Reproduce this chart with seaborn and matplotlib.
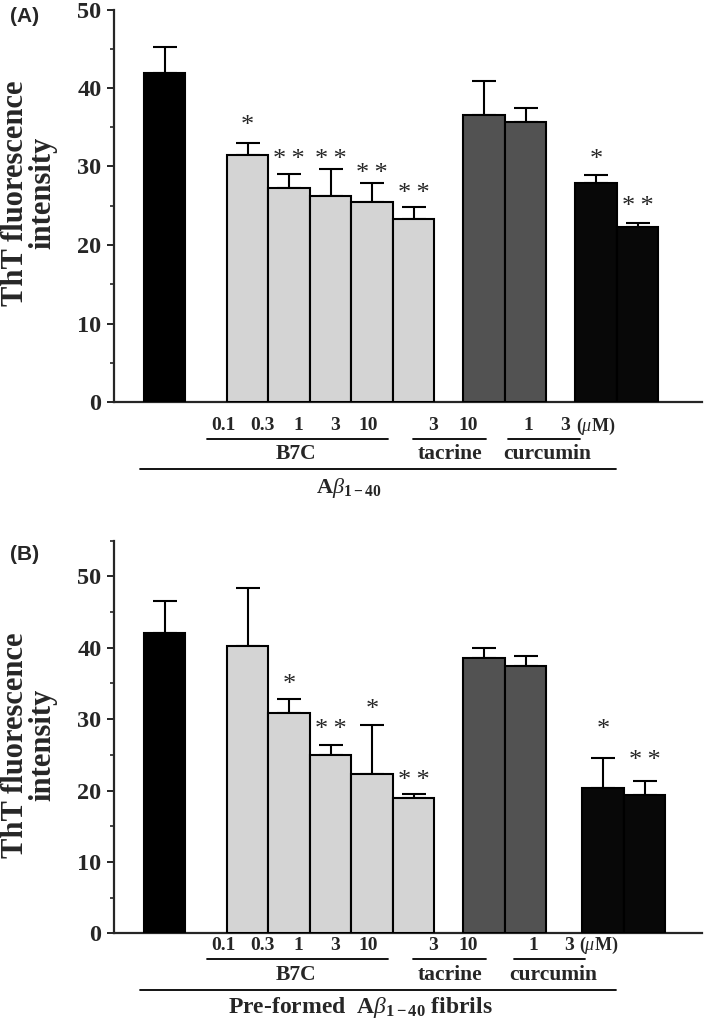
import matplotlib.pyplot as plt
import pandas as pd
import seaborn as sns
from matplotlib.lines import Line2D
from matplotlib.ticker import MultipleLocator

# Values (mean and upper error, ThT fluorescence)
groups = ["control", "B7C", "B7C", "B7C", "B7C", "B7C", "tacrine", "tacrine", "curcumin", "curcumin"]
doses = ["", "0.1", "0.3", "1", "3", "10", "3", "10", "1", "3"]

mean_a = [41.9, 31.5, 27.3, 26.2, 25.5, 23.3, 36.6, 35.7, 27.9, 22.3]
sem_a = [3.3, 1.5, 1.7, 3.5, 2.4, 1.5, 4.3, 1.8, 1.0, 0.5]
stars_a = ["", "*", "**", "**", "**", "**", "", "", "*", "**"]
star_y_a = [0, 35.5, 31.2, 31.2, 29.3, 26.8, 0, 0, 31.2, 25.2]

mean_b = [42.1, 40.2, 30.9, 25.0, 22.3, 18.9, 38.5, 37.5, 20.4, 19.4]
sem_b = [4.5, 8.2, 1.9, 1.4, 6.9, 0.6, 1.4, 1.3, 4.2, 2.0]
stars_b = ["", "", "*", "**", "*", "**", "", "", "*", "**"]
star_y_b = [0, 0, 35.1, 28.8, 31.6, 21.7, 0, 0, 28.8, 24.5]

palette = {"control": "#000000", "B7C": "#d4d4d4", "tacrine": "#525252", "curcumin": "#080808"}

sns.set_style("white")
plt.rcParams["font.family"] = ["Liberation Serif", "DejaVu Serif"]
plt.rcParams["mathtext.fontset"] = "custom"
plt.rcParams["mathtext.rm"] = "Liberation Serif:bold"
plt.rcParams["mathtext.it"] = "Liberation Serif:italic"
plt.rcParams["mathtext.bf"] = "Liberation Serif:bold"

W, H = 709, 1035


def fx(px):
    return px / W


def fy(py):
    return 1 - py / H


def bar_positions(gap_tac, gap_cur):
    # control, gap, B7C x5, gap, tacrine x2, gap, curcumin x2
    pos = [0, 2, 3, 4, 5, 6]
    pos += [6 + gap_tac, 7 + gap_tac]
    pos += [7 + gap_tac + gap_cur, 8 + gap_tac + gap_cur]
    return pos


def draw_panel(fig, rect, means, sems, stars, star_y, pos, ymax, lay):
    ax = fig.add_axes(rect)
    df = pd.DataFrame({"pos": pos, "mean": means, "sem": sems, "group": groups})
    sns.barplot(data=df, x="pos", y="mean", hue="group", palette=palette, native_scale=True,
                dodge=False, width=1.0, saturation=1, edgecolor="black", linewidth=1.5,
                errorbar=None, legend=False, ax=ax, zorder=3)
    ax.errorbar(df["pos"], df["mean"], yerr=[[0] * len(df), df["sem"]], fmt="none",
                ecolor="black", elinewidth=1.5, capsize=8.5, capthick=1.5, zorder=2)
    for x, s, y in zip(pos, stars, star_y):
        if s:
            txt = s.replace("**", "*\u2009*")
            ax.text(x, y, txt, ha="center", va="center_baseline", fontsize=19)

    ax.set_xlim(-1.22, 12.95)
    ax.set_ylim(0, ymax)
    ax.set_xticks([])
    ax.set_xlabel("")
    ax.set_ylabel("")
    ax.yaxis.set_major_locator(MultipleLocator(10))
    ax.yaxis.set_minor_locator(MultipleLocator(5))
    ax.tick_params(axis="y", which="major", direction="out", length=5, width=1.4,
                   labelsize=17.5, left=True, pad=4)
    ax.tick_params(axis="y", which="minor", direction="out", length=3, width=1.2, left=True)
    for lbl in ax.get_yticklabels():
        lbl.set_fontweight("bold")
    sns.despine(ax=ax)
    ax.spines["left"].set_linewidth(1.6)
    ax.spines["bottom"].set_linewidth(1.6)

    # dose labels and group brackets under the axis
    for d, px in zip(doses[1:], lay["dose_x"]):
        fig.text(fx(px), fy(lay["dose_y"]), d, ha="center", va="center", fontsize=14, fontweight="bold")
    fig.text(fx(lay["unit_x"]), fy(lay["dose_y"]), r"($\mathit{\mu}$M)", ha="center", va="center",
             fontsize=13, fontweight="bold")
    for (x0, x1), name, nx in zip(lay["lines"], ["B7C", "tacrine", "curcumin"], lay["name_x"]):
        fig.add_artist(Line2D([fx(x0), fx(x1)], [fy(lay["line_y"])] * 2, color="black", lw=1.3))
        fig.text(fx(nx), fy(lay["name_y"]), name, ha="center", va="center", fontsize=15.5, fontweight="bold")
    fig.add_artist(Line2D([fx(140), fx(616)], [fy(lay["long_y"])] * 2, color="black", lw=1.3))
    fig.text(fx(lay["title_x"]), fy(lay["title_y"]), lay["title"], ha="center", va="center",
             fontsize=lay["title_size"], fontweight="bold")
    return ax


fig = plt.figure(figsize=(W / 100, H / 100), dpi=100)

lay_a = {
    "dose_x": [223, 262, 298, 335, 368, 433, 468, 528, 565], "unit_x": 596, "dose_y": 426,
    "lines": [(207, 388), (413, 486), (508, 580)], "line_y": 439,
    "name_x": [296, 450, 547], "name_y": 454, "long_y": 469,
    "title": r"A$\mathit{\beta}_{\mathbf{1-40}}$", "title_x": 349, "title_y": 488, "title_size": 16,
}
lay_b = {
    "dose_x": [223, 262, 298, 335, 368, 433, 468, 533, 569], "unit_x": 599, "dose_y": 945,
    "lines": [(207, 388), (413, 486), (514, 585)], "line_y": 959,
    "name_x": [296, 450, 553], "name_y": 975, "long_y": 990,
    "title": r"Pre-formed  A$\mathit{\beta}_{\mathbf{1-40}}$ fibrils", "title_x": 360, "title_y": 1007,
    "title_size": 17,
}

draw_panel(fig, [fx(114), fy(402), (702 - 114) / W, (402 - 9.5) / H],
           mean_a, sem_a, stars_a, star_y_a, bar_positions(1.7, 1.7), 50, lay_a)
draw_panel(fig, [fx(114), fy(933.3), (702 - 114) / W, (933.3 - 540.7) / H],
           mean_b, sem_b, stars_b, star_y_b, bar_positions(1.7, 1.87), 55, lay_b)

for py in [193, 745]:
    fig.text(fx(29), fy(py), "ThT fluorescence\nintensity", rotation=90, ha="center", va="center",
             fontsize=22, fontweight="bold", linespacing=0.95, multialignment="center")
fig.text(fx(25), fy(17), "(A)", ha="center", va="center", fontsize=15, fontweight="bold",
         family="Liberation Sans")
fig.text(fx(25), fy(554), "(B)", ha="center", va="center", fontsize=15, fontweight="bold",
         family="Liberation Sans")

fig.savefig("out.png", dpi=100)
